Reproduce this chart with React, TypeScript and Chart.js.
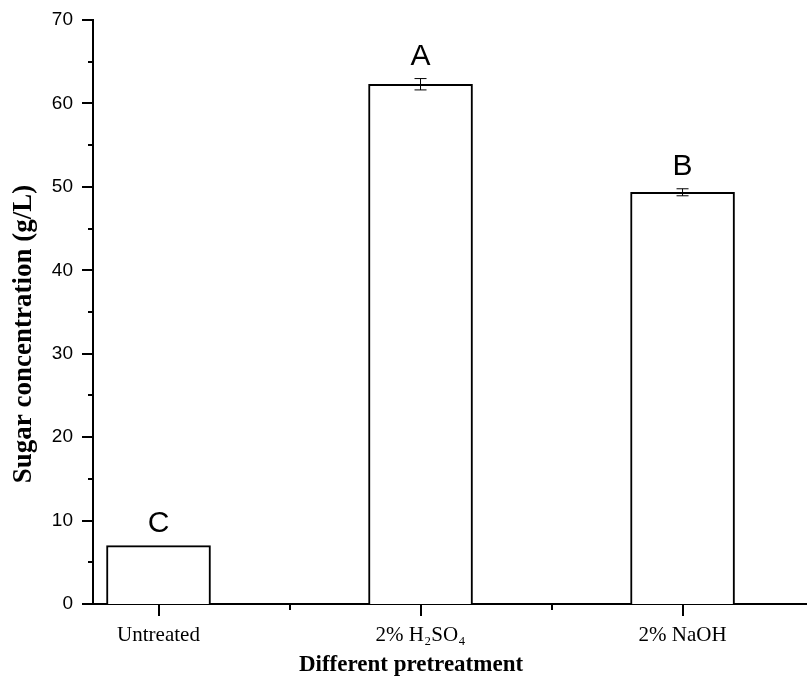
import React, { useEffect, useRef } from "react";
import { Chart, registerables } from "chart.js";

Chart.register(...registerables);

const categories = ["Untreated", "2% H₂SO₄", "2% NaOH"];
const positions = [1, 2, 3];
const sugarValues = [7.0, 62.3, 49.35];
const sugarErrors = [0, 0.68, 0.42];
const groupLetters = ["C", "A", "B"];
const yMajorTicks = [0, 10, 20, 30, 40, 50, 60, 70];
const yMinorTicks = [5, 15, 25, 35, 45, 55, 65];
const xMajorTicks = [1, 2, 3];
const xMinorTicks = [1.5, 2.5];
const xTitle = "Different pretreatment";
const yTitle = "Sugar concentration (g/L)";

const W = 807;
const H = 691;

const overlayPlugin = {
  id: "overlay",
  afterDatasetsDraw(chart: any) {
    const ctx = chart.ctx;
    const xs = chart.scales.x;
    const ys = chart.scales.y;
    const area = chart.chartArea;
    ctx.save();
    ctx.strokeStyle = "#000";
    ctx.fillStyle = "#000";
    // error bars
    ctx.lineWidth = 1;
    sugarValues.forEach((v, i) => {
      const e = sugarErrors[i];
      if (!e) return;
      const px = xs.getPixelForValue(positions[i]);
      const top = ys.getPixelForValue(v + e);
      const bot = ys.getPixelForValue(v - e);
      ctx.beginPath();
      ctx.moveTo(px, top);
      ctx.lineTo(px, bot);
      ctx.moveTo(px - 6, top);
      ctx.lineTo(px + 6, top);
      ctx.moveTo(px - 6, bot);
      ctx.lineTo(px + 6, bot);
      ctx.stroke();
    });
    // ticks
    ctx.lineWidth = 2;
    const left = area.left;
    const bottom = area.bottom;
    yMajorTicks.forEach((t) => {
      const py = Math.round(ys.getPixelForValue(t));
      ctx.beginPath();
      ctx.moveTo(left - 11, py);
      ctx.lineTo(left, py);
      ctx.stroke();
    });
    yMinorTicks.forEach((t) => {
      const py = Math.round(ys.getPixelForValue(t));
      ctx.beginPath();
      ctx.moveTo(left - 5, py);
      ctx.lineTo(left, py);
      ctx.stroke();
    });
    xMajorTicks.forEach((t) => {
      const px = Math.round(xs.getPixelForValue(t));
      ctx.beginPath();
      ctx.moveTo(px, bottom);
      ctx.lineTo(px, bottom + 12);
      ctx.stroke();
    });
    xMinorTicks.forEach((t) => {
      const px = Math.round(xs.getPixelForValue(t));
      ctx.beginPath();
      ctx.moveTo(px, bottom);
      ctx.lineTo(px, bottom + 6);
      ctx.stroke();
    });
    // letters
    ctx.font = "30px 'Liberation Sans', Arial, sans-serif";
    ctx.textAlign = "center";
    ctx.textBaseline = "alphabetic";
    sugarValues.forEach((v, i) => {
      const px = xs.getPixelForValue(positions[i]);
      const py = ys.getPixelForValue(v + sugarErrors[i]) - 14;
      ctx.fillText(groupLetters[i], px, py);
    });
    // axis titles
    ctx.font = "bold 23px 'Liberation Serif', 'Times New Roman', serif";
    ctx.textBaseline = "middle";
    ctx.fillText(xTitle, 411, 665);
    ctx.font = "bold 27px 'Liberation Serif', 'Times New Roman', serif";
    ctx.translate(24, 334);
    ctx.rotate(-Math.PI / 2);
    ctx.fillText(yTitle, 0, 0);
    ctx.restore();
  },
};

export default function App() {
  const ref = useRef<HTMLCanvasElement>(null);
  useEffect(() => {
    if (!ref.current) return;
    const chart = new Chart(ref.current, {
      type: "bar",
      data: {
        datasets: [
          {
            data: positions.map((p, i) => ({ x: p, y: sugarValues[i] })),
            backgroundColor: "#ffffff",
            borderColor: "#000000",
            borderWidth: 2,
            barThickness: 104,
          },
        ],
      },
      options: {
        animation: false,
        responsive: false,
        devicePixelRatio: 1,
        layout: { padding: { top: 0, left: 0, right: 0, bottom: 0 } },
        plugins: { legend: { display: false }, tooltip: { enabled: false } },
        scales: {
          x: {
            type: "linear",
            min: 0.75,
            max: 3.475,
            offset: false,
            grid: { display: false, drawTicks: false, offset: false },
            border: { display: true, color: "#000", width: 2 },
            afterBuildTicks: (s: any) => {
              s.ticks = xMajorTicks.map((v) => ({ value: v }));
            },
            afterFit: (s: any) => {
              s.height = H - 604;
            },
            ticks: {
              padding: 19,
              color: "#000",
              autoSkip: false,
              maxRotation: 0,
              font: { family: "'Liberation Serif', 'Times New Roman', serif", size: 21 },
              callback: (v: any) => {
                const idx = positions.indexOf(Number(v));
                return idx >= 0 ? categories[idx] : "";
              },
            },
          },
          y: {
            min: 0,
            max: 70,
            grid: { display: false, drawTicks: false },
            border: { display: true, color: "#000", width: 2 },
            afterFit: (s: any) => {
              s.width = 93;
              s.paddingTop = 20;
            },
            afterBuildTicks: (s: any) => {
              s.ticks = yMajorTicks.map((v) => ({ value: v }));
            },
            ticks: {
              padding: 20,
              color: "#000",
              font: { family: "'Liberation Sans', Arial, sans-serif", size: 19 },
            },
          },
        },
      },
      plugins: [overlayPlugin],
    });
    return () => chart.destroy();
  }, []);
  return (
    <div style={{ position: "fixed", left: 0, top: 0, width: W, height: H, background: "#fff" }}>
      <canvas ref={ref} width={W} height={H} style={{ width: W, height: H }} />
    </div>
  );
}
